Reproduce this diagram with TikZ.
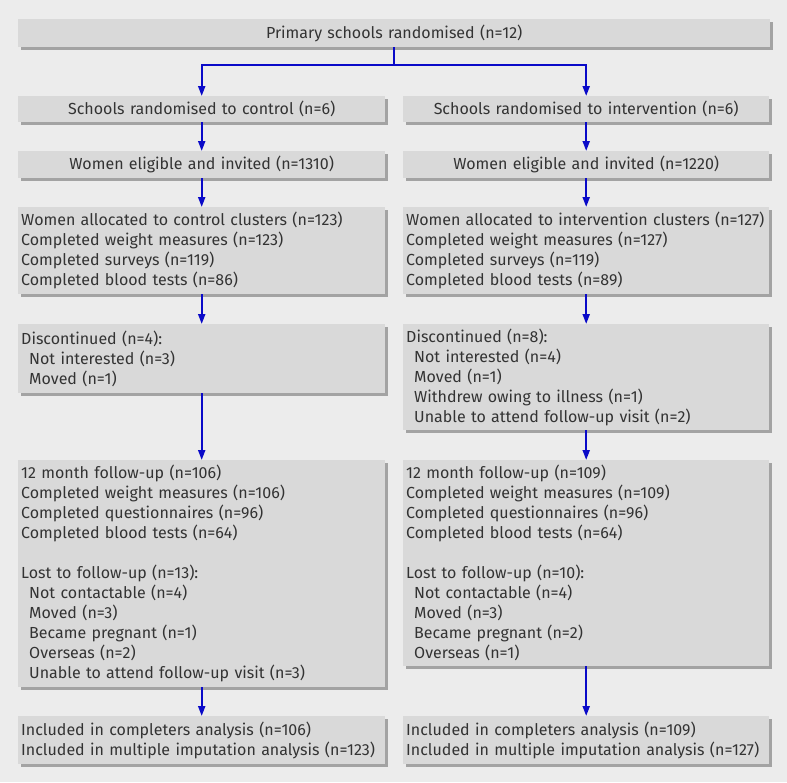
\documentclass[tikz,border=0pt]{standalone}
\usepackage{fontspec}
\setmainfont{Fira Sans}
\usepackage{xcolor}
\usepackage{tikz}
\usetikzlibrary{
  arrows.meta,
  shadows
}
\definecolor{fcBg}{HTML}{ECECEC}
\definecolor{fcBox}{HTML}{D9D9D9}
\definecolor{fcShadow}{HTML}{A3A3A3}
\definecolor{fcText}{HTML}{333333}
\definecolor{fcArrow}{HTML}{0A0AC8}
\tikzset{
  fcnode/.style={
    anchor=north west, fill=fcBox, text=fcText, inner xsep=3pt, inner ysep=0pt,
    font=\fontsize{16}{20}\selectfont,
    drop shadow={shadow xshift=3pt, shadow yshift=-3pt, fill=fcShadow, opacity=1}
  },
  fcwide/.style={fcnode, text width=746pt, align=center},
  fcleft/.style={fcnode, text width=361pt, align=left},
  fcright/.style={fcnode, text width=360pt, align=left},
  fcleftc/.style={fcleft, align=center},
  fcrightc/.style={fcright, align=center},
  flow/.style={-{Triangle[length=10pt, width=7pt]}, line width=2pt, fcArrow}
}
\newcommand{\sub}{\hspace*{8pt}}

\begin{document}
\begin{tikzpicture}[x=1pt, y=-1pt]
  \fill[fcBg] (0,0) rectangle (787,782);
  \useasboundingbox (0,0) rectangle (787,782);
  % top of the flow
  \node[fcwide, minimum height=28pt] (rand) at (18,19) {Primary schools randomised (n=12)};
  \node[fcleftc, minimum height=26pt] (ctrl) at (18,96) {Schools randomised to control (n=6)};
  \node[fcrightc, minimum height=26pt] (intv) at (403,96) {Schools randomised to intervention (n=6)};
  \node[fcleftc, minimum height=27pt] (eligC) at (18,151) {Women eligible and invited (n=1310)};
  \node[fcrightc, minimum height=27pt] (eligI) at (403,151) {Women eligible and invited (n=1220)};
  % allocation
  \node[fcleft, minimum height=87pt] (allocC) at (18,207) {Women allocated to control clusters (n=123)\\
    Completed weight measures (n=123)\\
    Completed surveys (n=119)\\
    Completed blood tests (n=86)};
  \node[fcright, minimum height=87pt] (allocI) at (403,207) {Women allocated to intervention clusters (n=127)\\
    Completed weight measures (n=127)\\
    Completed surveys (n=119)\\
    Completed blood tests (n=89)};
  % discontinued
  \node[fcleft, minimum height=69pt] (discC) at (18,324) {Discontinued (n=4):\\
    \sub Not interested (n=3)\\
    \sub Moved (n=1)};
  \node[fcright, minimum height=106pt] (discI) at (403,324) {Discontinued (n=8):\\
    \sub Not interested (n=4)\\
    \sub Moved (n=1)\\
    \sub Withdrew owing to illness (n=1)\\
    \sub Unable to attend follow-up visit (n=2)};
  % follow-up
  \node[fcleft, minimum height=227pt] (fuC) at (18,460) {12 month follow-up (n=106)\\
    Completed weight measures (n=106)\\
    Completed questionnaires (n=96)\\
    Completed blood tests (n=64)\\[20pt]
    Lost to follow-up (n=13):\\
    \sub Not contactable (n=4)\\
    \sub Moved (n=3)\\
    \sub Became pregnant (n=1)\\
    \sub Overseas (n=2)\\
    \sub Unable to attend follow-up visit (n=3)};
  \node[fcright, minimum height=206pt] (fuI) at (403,460) {12 month follow-up (n=109)\\
    Completed weight measures (n=109)\\
    Completed questionnaires (n=96)\\
    Completed blood tests (n=64)\\[20pt]
    Lost to follow-up (n=10):\\
    \sub Not contactable (n=4)\\
    \sub Moved (n=3)\\
    \sub Became pregnant (n=2)\\
    \sub Overseas (n=1)};
  % analysis
  \node[fcleft, minimum height=48pt] (inclC) at (18,716) {Included in completers analysis (n=106)\\
    Included in multiple imputation analysis (n=123)};
  \node[fcright, minimum height=48pt] (inclI) at (403,716) {Included in completers analysis (n=109)\\
    Included in multiple imputation analysis (n=127)};
  % connectors
  \draw[flow] (rand.south) -- ++(0,18) -| (ctrl.north);
  \draw[flow] (rand.south) -- ++(0,18) -| (intv.north);
  \draw[flow] (ctrl.south) -- (eligC.north);
  \draw[flow] (intv.south) -- (eligI.north);
  \draw[flow] (eligC.south) -- (allocC.north);
  \draw[flow] (eligI.south) -- (allocI.north);
  \draw[flow] (allocC.south) -- (discC.north);
  \draw[flow] (allocI.south) -- (discI.north);
  \draw[flow] (discC.south) -- (fuC.north);
  \draw[flow] (discI.south) -- (fuI.north);
  \draw[flow] (fuC.south) -- (inclC.north);
  \draw[flow] (fuI.south) -- (inclI.north);
\end{tikzpicture}
\end{document}
